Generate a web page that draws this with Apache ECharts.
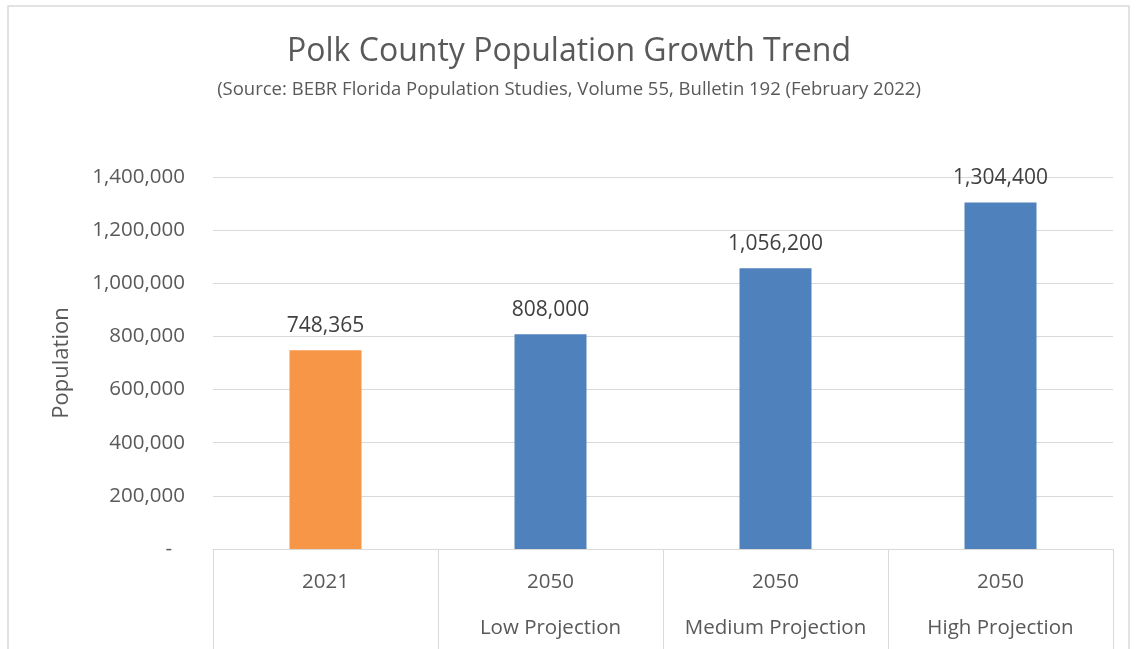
<!DOCTYPE html>
<html>
<head>
<meta charset="utf-8">
<script src="https://cdn.jsdelivr.net/npm/echarts@6/dist/echarts.min.js"></script>
<style>
  html, body { margin: 0; padding: 0; background: #fff; }
  #main { width: 1138px; height: 649px; }
</style>
</head>
<body>
<div id="main"></div>
<script>
// chart data
var years = ['2021', '2050', '2050', '2050'];
var scenarios = ['', 'Low Projection', 'Medium Projection', 'High Projection'];
var population = [748365, 808000, 1056200, 1304400];
var barColors = ['#F79646', '#4F81BD', '#4F81BD', '#4F81BD'];

var fontName = 'Open Sans';
var txt = '#595959';

var categories = years.map(function (y, i) {
    return y + '\n' + (scenarios[i] || ' ');
});

var fmt = function (v) {
    return v.toLocaleString('en-US');
};

var chart = echarts.init(document.getElementById('main'));

var option = {
    backgroundColor: '#fff',
    animation: false,
    textStyle: {fontFamily: fontName},
    title: [{
        text: 'Polk County Population Growth Trend',
        left: 'center',
        top: 31,
        textStyle: {fontFamily: fontName, fontSize: 32, fontWeight: 'normal', color: txt}
    }, {
        text: '(Source: BEBR Florida Population Studies, Volume 55, Bulletin 192 (February 2022)',
        left: 'center',
        top: 75,
        textStyle: {fontFamily: fontName, fontSize: 18.5, fontWeight: 'normal', color: txt}
    }],
    grid: {left: 213, right: 25, top: 177, bottom: 100, outerBoundsMode: 'none'},
    xAxis: {
        type: 'category',
        data: categories,
        axisLine: {lineStyle: {color: '#d9d9d9'}},
        axisTick: {show: true, interval: 0, length: 100, lineStyle: {color: '#d9d9d9'}},
        axisLabel: {
            interval: 0,
            hideOverlap: false,
            margin: 10,
            verticalAlign: 'top',
            lineHeight: 46,
            fontSize: 20.5,
            color: txt
        }
    },
    yAxis: {
        type: 'value',
        min: 0,
        max: 1400000,
        interval: 200000,
        name: 'Population',
        nameLocation: 'middle',
        nameGap: 140,
        nameTextStyle: {fontSize: 22, color: txt},
        axisLine: {show: false},
        axisTick: {show: false},
        splitLine: {lineStyle: {color: '#d9d9d9'}},
        axisLabel: {
            margin: 28,
            fontSize: 20.5,
            color: txt,
            formatter: function (v) {
                return v === 0 ? '{z|-}' : fmt(v);
            },
            rich: {z: {fontSize: 20.5, color: txt, padding: [0, 13, 0, 0]}}
        }
    },
    series: [{
        type: 'bar',
        barWidth: '32%',
        data: population.map(function (v, i) {
            return {value: v, itemStyle: {color: barColors[i]}};
        }),
        label: {
            show: true,
            position: 'top',
            distance: 14,
            fontSize: 21,
            color: '#404040',
            formatter: function (p) {
                return fmt(p.value);
            }
        }
    }],
    graphic: [{
        type: 'rect',
        shape: {x: 8, y: 6, width: 1121, height: 700},
        style: {fill: 'none', stroke: '#d9d9d9', lineWidth: 1.5},
        silent: true
    }]
};

chart.setOption(option);
</script>
</body>
</html>
